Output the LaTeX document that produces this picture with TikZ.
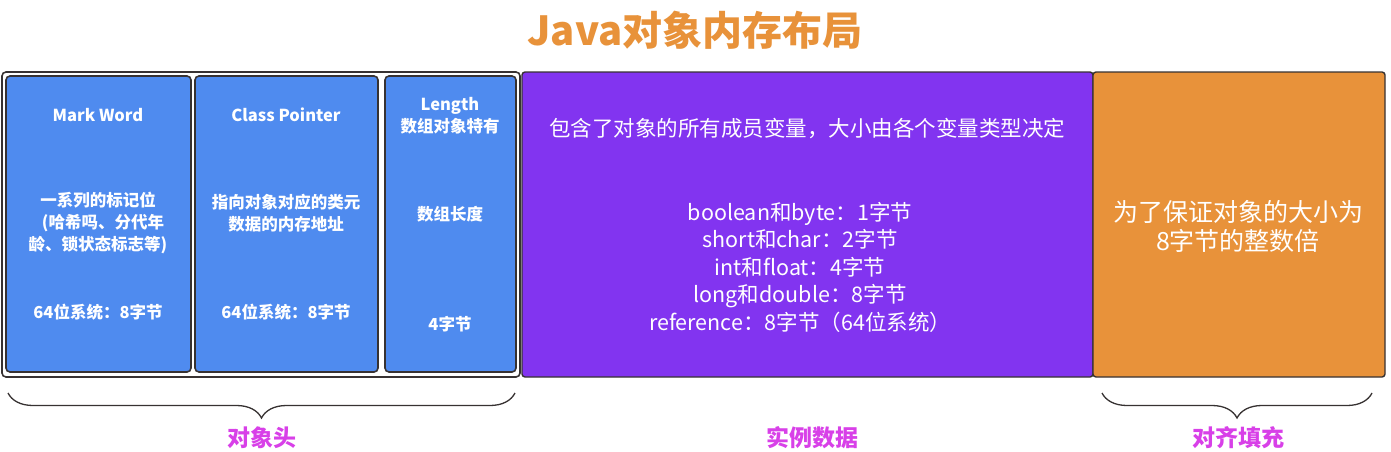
\documentclass[tikz,border=0pt]{standalone}
\usepackage{fontspec}
\setmainfont{Noto Sans CJK SC}
\usetikzlibrary{decorations.pathreplacing, positioning}

\definecolor{hdrblue}{RGB}{79,139,239}
\definecolor{datapurple}{RGB}{130,52,240}
\definecolor{padorange}{RGB}{232,146,58}
\definecolor{edgegray}{RGB}{55,50,50}
\definecolor{labelpink}{RGB}{216,64,232}

\begin{document}
\begin{tikzpicture}[
    x=1pt, y=1pt,
    frame/.style={
        draw=edgegray, line width=1.6pt, rounded corners=4pt, fill=white,
        inner sep=0pt
    },
    field/.style={
        draw=edgegray, line width=1.6pt, rounded corners=4pt, fill=hdrblue,
        inner sep=0pt, minimum height=296
    },
    part/.style={
        draw=edgegray, line width=1.4pt, rounded corners=3pt,
        inner sep=0pt, minimum height=305
    },
    ftext/.style={
        text=white, font=\fontsize{16.5}{22}\selectfont\bfseries, align=center,
        inner sep=0pt
    },
    ptext/.style={
        text=white, font=\fontsize{21.5}{27.5}\selectfont, align=center,
        inner sep=0pt
    },
    brc/.style={
        decorate, decoration={brace, mirror, amplitude=25pt},
        draw=edgegray, line width=1.3pt
    },
    grp/.style={
        text=labelpink, font=\fontsize{23}{26}\selectfont\bfseries, inner sep=0pt
    }
]
\useasboundingbox (0,0) rectangle (1391,-452);

% title
\node[text=padorange, font=\fontsize{40}{44}\selectfont\bfseries, inner sep=0pt]
    (title) at (695,-30) {Java对象内存布局};

% object header
\node[frame, minimum width=518, minimum height=305] (hdr) at (261,-224.5) {};
\node[field, minimum width=185] (mw) at (98.5,-224) {};
\node[field, minimum width=183] (cp) at (286.5,-224) {};
\node[field, minimum width=131] (len) at (450.5,-224) {};

\node[ftext] (mwname) at (98,-115) {Mark Word};
\node[ftext] (mwdesc) at (98,-223) {一系列的标记位\\\hspace*{0.6em}(哈希吗、分代年\\龄、锁状态标志等)};
\node[ftext] (mwsize) at (98,-312) {64位系统：8字节};

\node[ftext] (cpname) at (286,-115) {Class Pointer};
\node[ftext] (cpdesc) at (286,-213) {指向对象对应的类元\\数据的内存地址};
\node[ftext] (cpsize) at (286,-312) {64位系统：8字节};

\node[ftext] (lenname) at (450,-116) {Length\\数组对象特有};
\node[ftext] (lendesc) at (450,-214) {数组长度};
\node[ftext] (lensize) at (450,-324) {4字节};

% instance data
\node[part, fill=datapurple, minimum width=571] (data) at (807.5,-224.5) {};
\node[ptext] (datahead) at (807,-129) {包含了对象的所有成员变量，大小由各个变量类型决定};
\node[ptext] (datalist) at (800,-267) {boolean和byte：1字节\\short和char：2字节\\int和float：4字节\\long和double：8字节\\reference：8字节（64位系统）};

% padding
\node[part, fill=padorange, minimum width=292] (pad) at (1239,-224.5) {};
\node[text=white, font=\fontsize{25}{29}\selectfont, align=center, inner sep=0pt]
    (padtext) at (1238,-226) {为了保证对象的大小为\\8字节的整数倍};

% braces
\coordinate (hl) at (8,-393);
\coordinate (hr) at (515,-393);
\coordinate (pl) at (1102,-393);
\coordinate (pr) at (1372,-393);
\draw[brc] (hl) -- (hr);
\draw[brc] (pl) -- (pr);

\node[grp] (hdrlabel) at (262,-438) {对象头};
\node[grp] (datalabel) at (812,-438) {实例数据};
\node[grp] (padlabel) at (1238,-438) {对齐填充};
\end{tikzpicture}
\end{document}
